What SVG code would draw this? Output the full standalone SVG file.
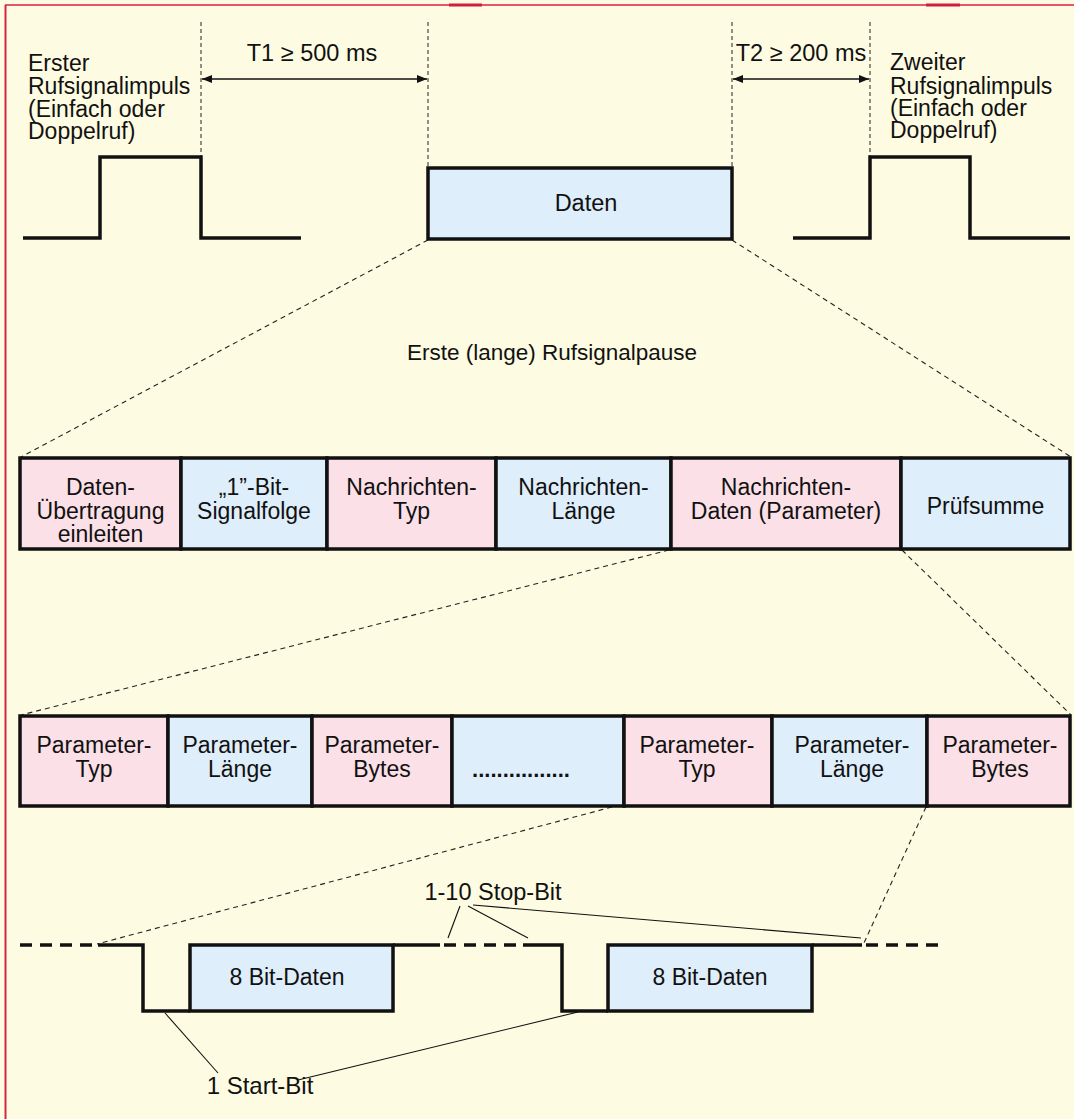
<svg xmlns="http://www.w3.org/2000/svg" width="1074" height="1119" viewBox="0 0 1074 1119">
<defs>
<style>
text{font-family:"Liberation Sans",Arial,Helvetica,sans-serif;fill:#111;}
.lbl{font-size:23px;text-anchor:middle;}
.side{font-size:23px;}
.tm{font-size:23.5px;text-anchor:middle;}
.pink{fill:#fbe0e7;stroke:#111;stroke-width:3.5;}
.blue{fill:#dfeefb;stroke:#111;stroke-width:3.5;}
.sig{fill:none;stroke:#111;stroke-width:3.5;stroke-linejoin:miter;}
.sigd{fill:none;stroke:#111;stroke-width:3.5;stroke-dasharray:12 8;}
.vd{stroke:#222;stroke-width:1;stroke-dasharray:4 3;fill:none;}
.cd{stroke:#222;stroke-width:1.1;stroke-dasharray:5 4;fill:none;}
.thin{stroke:#111;stroke-width:1.1;fill:none;}
.arr{stroke:#111;stroke-width:1.3;fill:none;marker-start:url(#ah);marker-end:url(#ah);}
</style>
<marker id="ah" viewBox="0 0 10 8" refX="10" refY="4" markerWidth="10" markerHeight="8" markerUnits="userSpaceOnUse" orient="auto-start-reverse">
<path d="M0,0 L10,4 L0,8 Z" fill="#111"/>
</marker>
</defs>
<rect x="0" y="0" width="1074" height="1119" fill="#fdfbe2"/>
<g id="frame">
<line x1="5" y1="5" x2="1074" y2="5" stroke="#e6546e" stroke-width="1.8"/>
<line x1="449" y1="5" x2="482" y2="5" stroke="#d41d3d" stroke-width="3"/>
<line x1="926" y1="5" x2="960" y2="5" stroke="#d41d3d" stroke-width="3"/>
<line x1="5.5" y1="5" x2="5.5" y2="1119" stroke="#d82446" stroke-width="2"/>
</g>

<g id="connectors">
<line class="vd" x1="201" y1="22" x2="201" y2="157"/>
<line class="vd" x1="428" y1="22" x2="428" y2="168"/>
<line class="vd" x1="732" y1="22" x2="732" y2="168"/>
<line class="vd" x1="870" y1="22" x2="870" y2="157"/>
<line class="arr" x1="202" y1="79" x2="427" y2="79"/>
<line class="arr" x1="733" y1="79" x2="869" y2="79"/>
<line class="cd" x1="428" y1="240" x2="21" y2="457"/>
<line class="cd" x1="732" y1="240" x2="1071" y2="457"/>
<line class="cd" x1="669" y1="550" x2="21" y2="715"/>
<line class="cd" x1="902" y1="550" x2="1071" y2="715"/>
<line class="cd" x1="612" y1="807" x2="97" y2="944"/>
<line class="cd" x1="926" y1="807" x2="864" y2="943"/>
<line class="thin" x1="460" y1="906" x2="448" y2="938"/>
<line class="thin" x1="468" y1="906" x2="528" y2="938"/>
<line class="thin" x1="473" y1="905" x2="861" y2="938"/>
<line class="thin" x1="165" y1="1013" x2="218" y2="1073"/>
<line class="thin" x1="298" y1="1080" x2="578" y2="1012"/>
</g>

<g id="pulse1">
<polyline class="sig" points="23,238 100,238 100,157 201,157 201,238 301,238"/>
<text class="side" x="28" y="71">Erster</text>
<text class="side" x="28" y="94">Rufsignalimpuls</text>
<text class="side" x="28" y="117">(Einfach oder</text>
<text class="side" x="28" y="139">Doppelruf)</text>
</g>
<g id="t1"><text class="tm" x="312" y="61">T1 ≥ 500 ms</text></g>
<g id="daten">
<rect class="blue" x="428" y="168" width="304" height="71"/>
<text class="lbl" x="586" y="211" style="font-size:23.5px">Daten</text>
</g>
<g id="t2"><text class="tm" x="801" y="61">T2 ≥ 200 ms</text></g>
<g id="pulse2">
<polyline class="sig" points="793,238 870,238 870,157 970,157 970,238 1070,238"/>
<text class="side" x="890" y="70">Zweiter</text>
<text class="side" x="890" y="94">Rufsignalimpuls</text>
<text class="side" x="890" y="116">(Einfach oder</text>
<text class="side" x="890" y="138">Doppelruf)</text>
</g>
<g id="pause"><text class="tm" x="552" y="360" style="font-size:22.5px">Erste (lange) Rufsignalpause</text></g>

<g id="row1">
<g id="r1b1"><rect class="pink" x="20" y="458" width="161" height="91"/>
<text class="lbl" x="100.5" y="495">Daten-</text><text class="lbl" x="100.5" y="518.5">Übertragung</text><text class="lbl" x="100.5" y="542">einleiten</text></g>
<g id="r1b2"><rect class="blue" x="181" y="458" width="146" height="91"/>
<text class="lbl" x="254" y="495">„1”-Bit-</text><text class="lbl" x="254" y="519">Signalfolge</text></g>
<g id="r1b3"><rect class="pink" x="327" y="458" width="169" height="91"/>
<text class="lbl" x="411.5" y="495">Nachrichten-</text><text class="lbl" x="411.5" y="519">Typ</text></g>
<g id="r1b4"><rect class="blue" x="496" y="458" width="175" height="91"/>
<text class="lbl" x="583.5" y="495">Nachrichten-</text><text class="lbl" x="583.5" y="519">Länge</text></g>
<g id="r1b5"><rect class="pink" x="671" y="458" width="230" height="91"/>
<text class="lbl" x="786" y="495">Nachrichten-</text><text class="lbl" x="786" y="519">Daten (Parameter)</text></g>
<g id="r1b6"><rect class="blue" x="901" y="458" width="169" height="91"/>
<text class="lbl" x="985.5" y="514">Prüfsumme</text></g>
</g>

<g id="row2">
<g id="r2b1"><rect class="pink" x="20" y="716" width="148" height="90"/>
<text class="lbl" x="94" y="753">Parameter-</text><text class="lbl" x="94" y="777">Typ</text></g>
<g id="r2b2"><rect class="blue" x="168" y="716" width="144" height="90"/>
<text class="lbl" x="240" y="753">Parameter-</text><text class="lbl" x="240" y="777">Länge</text></g>
<g id="r2b3"><rect class="pink" x="312" y="716" width="140" height="90"/>
<text class="lbl" x="382" y="753">Parameter-</text><text class="lbl" x="382" y="777">Bytes</text></g>
<g id="r2b4"><rect class="blue" x="452" y="716" width="172" height="90"/>
<text class="lbl" x="521" y="777" style="font-weight:bold;font-size:22px">................</text></g>
<g id="r2b5"><rect class="pink" x="624" y="716" width="148" height="90"/>
<text class="lbl" x="697" y="753">Parameter-</text><text class="lbl" x="697" y="777">Typ</text></g>
<g id="r2b6"><rect class="blue" x="772" y="716" width="155" height="90"/>
<text class="lbl" x="852" y="753">Parameter-</text><text class="lbl" x="852" y="777">Länge</text></g>
<g id="r2b7"><rect class="pink" x="927" y="716" width="143" height="90"/>
<text class="lbl" x="1000" y="753">Parameter-</text><text class="lbl" x="1000" y="777">Bytes</text></g>
</g>

<g id="signal">
<line class="sigd" x1="20" y1="945" x2="98" y2="945"/>
<polyline class="sig" points="98,945 143,945 143,1011 190,1011"/>
<line class="sig" x1="393" y1="945" x2="440" y2="945"/>
<line class="sigd" x1="444" y1="945" x2="523" y2="945"/>
<polyline class="sig" points="523,945 562,945 562,1011 608,1011"/>
<line class="sig" x1="812" y1="945" x2="862" y2="945"/>
<line class="sigd" x1="866" y1="945" x2="940" y2="945"/>
</g>
<g id="byte1">
<rect class="blue" x="190" y="945" width="203" height="66"/>
<text class="lbl" x="287" y="985">8 Bit-Daten</text>
</g>
<g id="byte2">
<rect class="blue" x="608" y="945" width="204" height="66"/>
<text class="lbl" x="710" y="985">8 Bit-Daten</text>
</g>
<g id="stopbit"><text class="lbl" x="493" y="900" style="font-size:23.5px">1-10 Stop-Bit</text></g>
<g id="startbit"><text class="lbl" x="260" y="1094" style="font-size:24px">1 Start-Bit</text></g>
</svg>
